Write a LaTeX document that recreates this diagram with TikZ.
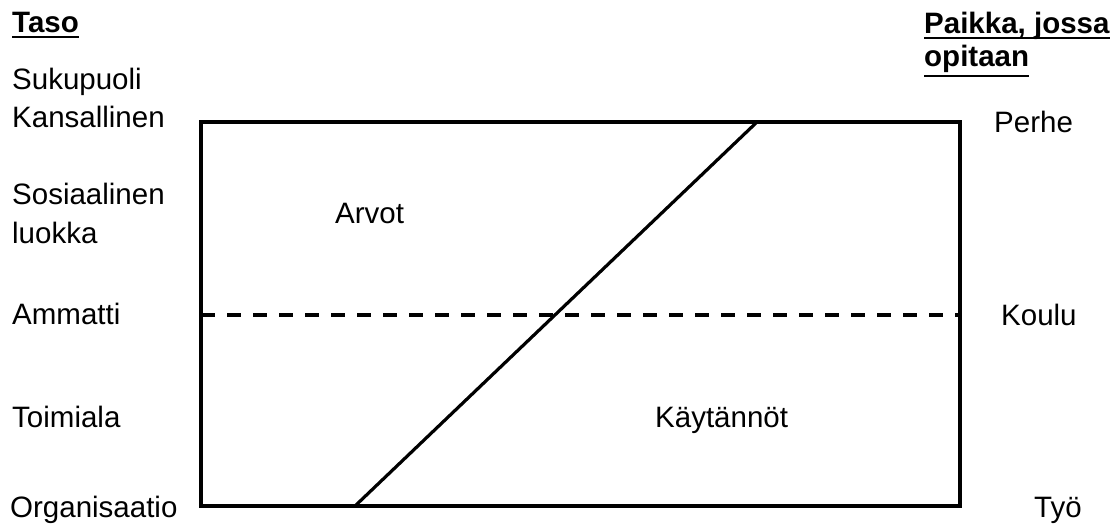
\documentclass[tikz,border=0pt]{standalone}
\usepackage{fontspec}
\setmainfont{Liberation Sans}
\begin{document}
\begin{tikzpicture}[x=1pt,y=-1pt,
  lbl/.style={inner sep=0pt,anchor=base west,font=\fontsize{29.5}{38}\selectfont},
  hdr/.style={inner sep=0pt,anchor=base west,font=\fontsize{29.5}{38}\selectfont\bfseries},
  uline/.style={line width=2.8pt},
  frame/.style={line width=3.2pt},
  divide/.style={line width=3.2pt,dash pattern=on 14pt off 12pt}]
\useasboundingbox (0,0) rectangle (1120,528);
% headers
\node[hdr] (taso) at (12,32) {Taso};
\node[hdr] (paikka) at (924,33) {Paikka, jossa};
\node[hdr] (opitaan) at (924,66) {opitaan};
\draw[uline] ([yshift=-5pt]taso.base west) -- ([yshift=-5pt]taso.base east);
\draw[uline] ([yshift=-5pt]paikka.base west) -- ([yshift=-5pt]paikka.base east);
\draw[uline] ([yshift=-10pt]opitaan.base west) -- ([yshift=-10pt]opitaan.base east);
% left labels
\node[lbl] (suku) at (12,89) {Sukupuoli};
\node[lbl] (kans) at (12,127) {Kansallinen};
\node[lbl] (sos) at (12,204) {Sosiaalinen};
\node[lbl] (luok) at (12,243) {luokka};
\node[lbl] (amm) at (12,324) {Ammatti};
\node[lbl] (toim) at (12,427) {Toimiala};
\node[lbl] (org) at (10,517) {Organisaatio};
% right labels
\node[lbl] (perhe) at (994,132) {Perhe};
\node[lbl] (koulu) at (1001,325) {Koulu};
\node[lbl] (tyo) at (1034,517) {Työ};
% inner labels
\node[lbl] (arvot) at (335,223) {Arvot};
\node[lbl] (kayt) at (655,427) {Käytännöt};
% frame
\coordinate (tl) at (201,122);
\coordinate (br) at (960,506);
\coordinate (dl) at (201,315);
\coordinate (dr) at (960,315);
\coordinate (db) at (355,506);
\coordinate (dt) at (757,122);
\draw[divide] (dl) -- (dr);
\draw[frame] (db) -- (dt);
\draw[frame] (tl) rectangle (br);
\end{tikzpicture}
\end{document}
